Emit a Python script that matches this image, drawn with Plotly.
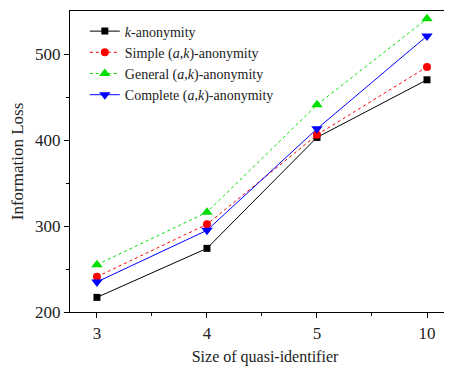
import plotly.graph_objects as go

categories = ["3", "4", "5", "10"]
k_anon = [217, 274, 403, 470]
simple_ak = [241, 302, 406, 485]
general_ak = [255, 316, 441, 541]
complete_ak = [235, 295, 413, 521]

series = [
    ("<i>k</i>-anonymity", k_anon, "#000000", "solid", "square", 7),
    ("Simple (<i>a</i>,<i>k</i>)-anonymity", simple_ak, "#ff0000", "dot", "circle", 8),
    ("General (<i>a</i>,<i>k</i>)-anonymity", general_ak, "#00e000", "dot", "triangle-up", 10),
    ("Complete (<i>a</i>,<i>k</i>)-anonymity", complete_ak, "#0000ff", "solid", "triangle-down", 10),
]

xs = list(range(len(categories)))
fig = go.Figure()
for name, vals, color, dash, sym, size in series:
    fig.add_trace(go.Scatter(
        x=xs, y=vals, name=name, mode="lines+markers",
        line=dict(color=color, width=1, dash=dash),
        marker=dict(symbol=sym, size=size, color=color),
    ))

font_family = "Liberation Serif, Times New Roman, serif"
# the page body has an 8px margin; margins compensate so the plot sits where the reference has it
fig.update_layout(
    width=452, height=368,
    margin=dict(l=62, r=0, t=3, b=64),
    paper_bgcolor="white", plot_bgcolor="white",
    font=dict(family=font_family, color="#222222", size=15),
    showlegend=True,
    legend=dict(
        x=0.038, y=0.985, xanchor="left", yanchor="top",
        bgcolor="rgba(0,0,0,0)", font=dict(size=14, family=font_family),
        tracegroupgap=0, itemwidth=30,
    ),
)
fig.update_xaxes(
    automargin=False,
    range=[-0.245, 3.30],
    tickvals=xs, ticktext=categories,
    showline=True, linecolor="#000000", linewidth=1.3, mirror=True,
    ticks="outside", ticklen=5, tickcolor="#000000",
    minor=dict(tickvals=[0.5, 1.5, 2.5], ticks="outside", ticklen=3, tickcolor="#000000"),
    showgrid=False, zeroline=False,
    tickfont=dict(size=17, family=font_family),
    title=dict(text="Size of quasi-identifier", font=dict(size=16, family=font_family), standoff=9),
)
fig.update_yaxes(
    automargin=False,
    range=[200, 550],
    tickvals=[200, 300, 400, 500],
    showline=True, linecolor="#000000", linewidth=1.3, mirror=False,
    ticks="outside", ticklen=5, tickcolor="#000000",
    minor=dict(tickvals=[250, 350, 450], ticks="outside", ticklen=3, tickcolor="#000000"),
    showgrid=False, zeroline=False,
    tickfont=dict(size=17, family=font_family),
    title=dict(text="Information Loss", font=dict(size=17, family=font_family), standoff=10),
)

fig.write_html("out.html")
